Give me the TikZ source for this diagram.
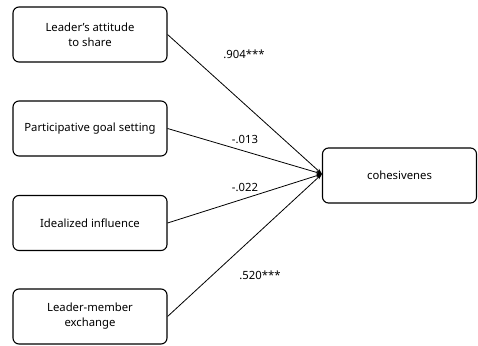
\documentclass[tikz,border=0pt]{standalone}
\usepackage{fontspec}
\setmainfont{Noto Sans}
\usetikzlibrary{arrows.meta}
\begin{document}
\begin{tikzpicture}[x=1pt,y=-1pt,
  box/.style={draw, line width=1.1pt, rounded corners=6pt, minimum width=154pt, minimum height=55pt, align=center, font=\fontsize{11.3}{15}\selectfont, inner sep=0pt},
  conn/.style={line width=0.8pt, -{Stealth[length=6pt,width=4pt]}},
  lab/.style={font=\fontsize{11.3}{14}\selectfont, inner sep=0pt}]
\useasboundingbox (0,0) rectangle (478,345);
\node[box] (a) at (90,34.5) {Leader's attitude\\to share};
\node[box] (b) at (90,128.5) {Participative goal setting};
\node[box] (c) at (90,223) {Idealized influence};
\node[box] (d) at (90,316.5) {Leader-member\\exchange};
\node[box] (e) at (399.5,175.5) {cohesivenes};
\coordinate (t) at (322,174);
\draw[conn] (a.east) -- (t);
\draw[conn] (b.east) -- (t);
\draw[conn] (c.east) -- (t);
\draw[conn] (d.east) -- (t);
\node[lab] (l1) at (244,54) {.904***};
\node[lab] (l2) at (245,139) {-.013};
\node[lab] (l3) at (245,187) {-.022};
\node[lab] (l4) at (260,275) {.520***};
\end{tikzpicture}
\end{document}
